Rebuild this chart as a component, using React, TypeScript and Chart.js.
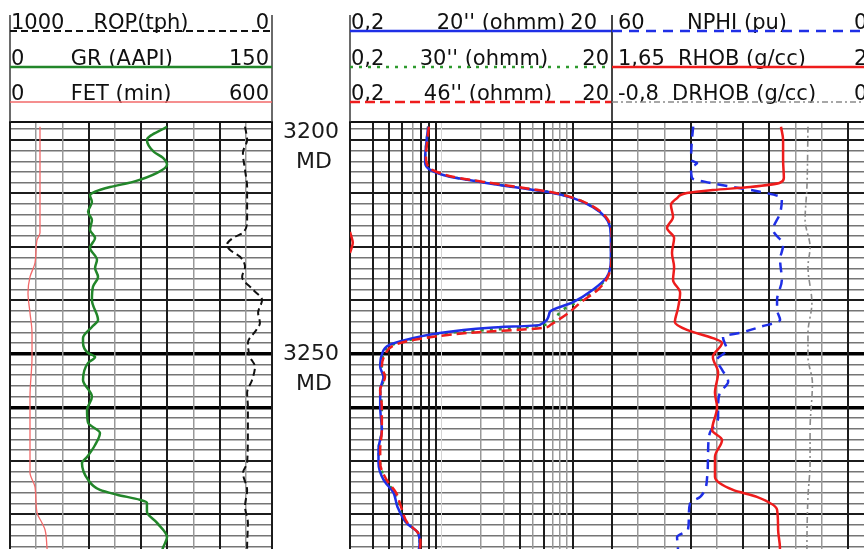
import React, { useEffect, useRef } from "react";
import { Chart, registerables } from "chart.js";

Chart.register(...registerables);

const FONT = '"DejaVu Sans", Verdana, sans-serif';

// ---------------- Depth axis (MD) ----------------
const DEPTH_TOP = 3195.8;
const DEPTH_BOTTOM = 3295.6;
const DEPTH_STEP = 2.5;
const DEPTH_MAJOR_EVERY = 12.5;
const DEPTH_THICK = [3250, 3262.5];
const DEPTH_LABELS = [3200, 3250];
const DEPTH_UNIT = "MD";

// ---------------- Track 1 : ROP / GR / FET ----------------
const ROP_RANGE = [0, 1000]; // drawn reversed: 1000 left, 0 right
const GR_RANGE = [0, 150];
const FET_RANGE = [0, 600];

const GR_DEPTH = [3196.9, 3200, 3202.8, 3204.2, 3205.8, 3207.7, 3209.8, 3211, 3212.1, 3212.9, 3214.5, 3216.8, 3218.7, 3221, 3222.9, 3225.2, 3228, 3229.9, 3232, 3234.3, 3237.4, 3242.1, 3243.7, 3246.3, 3247.4, 3249.8, 3250.7, 3252.1, 3256.1, 3260, 3263.1, 3266.1, 3268.5, 3271.3, 3274.1, 3275.5, 3279.4, 3281.8, 3282.9, 3284.1, 3284.8, 3286.9, 3289.5, 3292.8, 3295.3, 3297];
const GR = [89.9, 78.4, 82.4, 87.6, 89.9, 84.2, 70.4, 57.3, 48.7, 45.8, 46.9, 44.7, 46.9, 45.8, 48.7, 45.8, 49.8, 48.7, 50.4, 47.5, 46.9, 50.4, 46.9, 41.8, 41.8, 44.7, 48.7, 44.7, 41.8, 46.9, 44.1, 44.7, 51.5, 48.7, 44.1, 41.2, 44.7, 51.5, 61.3, 74.4, 78.4, 78.4, 84.2, 89.9, 87.6, 86.5];

const FET_DEPTH = [3196.9, 3221.7, 3223.4, 3228.7, 3232, 3235.7, 3240.4, 3245.1, 3250.7, 3260, 3277.8, 3281.1, 3287.1, 3289.5, 3291.1, 3295.3, 3297];
const FET = [68.7, 68.7, 61.8, 57.3, 45.8, 41.2, 45.8, 50.4, 50.4, 45.8, 45.8, 57.3, 61.8, 73.3, 80.2, 84.7, 86];

const ROP_DEPTH = [3196.9, 3200, 3203, 3207, 3211, 3218.7, 3221.7, 3222.9, 3224.5, 3225.7, 3227.3, 3229.7, 3232, 3235, 3237.4, 3240.4, 3242.8, 3244.4, 3247.4, 3250.7, 3253, 3256.1, 3259.1, 3262.4, 3267.8, 3275.5, 3277.8, 3281.8, 3285.7, 3289.5, 3295.1, 3297];
const ROP = [103, 95, 111, 103, 95, 95, 111, 149, 172, 160, 122, 103, 114, 72, 38, 53, 46, 60, 92, 84, 65, 76, 95, 92, 92, 95, 111, 95, 103, 92, 95, 95];

// ---------------- Track 2 : resistivity (log) ----------------
const RES_RANGE = [0.2, 20];
const LOG_GRID = [0.2, 0.3, 0.4, 0.5, 0.6, 0.7, 0.8, 0.9, 1, 2, 3, 4, 5, 6, 7, 8, 9, 10, 20];

const RES_DEPTH = [3196.9, 3200, 3204, 3205.4, 3207, 3208.6, 3209.8, 3211, 3212.1, 3213.6, 3215.7, 3218, 3220.3, 3223.4, 3228, 3232, 3235, 3237.9, 3240.2, 3243.2, 3243.9, 3245.1, 3246.7, 3247.9, 3250.2, 3253, 3255.4, 3258.4, 3262.4, 3267.8, 3272.4, 3275.5, 3279.4, 3282.5, 3285.7, 3289.5, 3291.8, 3294.2, 3297];
const RES20 = [0.79, 0.77, 0.75, 0.75, 0.82, 1.16, 1.97, 3.51, 6.38, 10.1, 14.3, 17.7, 19.3, 19.6, 19.6, 18.3, 14.3, 10.1, 6.7, 5.64, 2.34, 0.97, 0.54, 0.4, 0.35, 0.34, 0.36, 0.34, 0.34, 0.35, 0.33, 0.33, 0.36, 0.43, 0.46, 0.54, 0.66, 0.68, 0.66];
const RES30 = [0.79, 0.77, 0.75, 0.76, 0.83, 1.18, 2.0, 3.6, 6.5, 10.2, 14.4, 17.8, 19.4, 19.7, 19.6, 18.4, 15.0, 10.8, 8.0, 6.2, 4.0, 1.1, 0.58, 0.42, 0.36, 0.35, 0.37, 0.34, 0.35, 0.35, 0.33, 0.34, 0.37, 0.44, 0.47, 0.54, 0.66, 0.68, 0.66];
const RES46 = [0.8, 0.78, 0.76, 0.77, 0.85, 1.22, 2.1, 3.8, 6.6, 10.3, 14.6, 18.0, 19.6, 19.9, 19.8, 18.6, 15.6, 11.6, 9.5, 6.8, 6.0, 1.6, 0.62, 0.44, 0.37, 0.35, 0.37, 0.34, 0.35, 0.35, 0.34, 0.34, 0.38, 0.45, 0.49, 0.55, 0.66, 0.69, 0.67];
// backup (wrapped) trace of the 46" curve where it passes 20 ohmm
const RES46_WRAP_DEPTH = [3221.5, 3222.8, 3224, 3225.2, 3226.4];
const RES46_WRAP = [0.2, 0.206, 0.21, 0.206, 0.2];

// ---------------- Track 3 : NPHI / RHOB / DRHOB ----------------
const NPHI_RANGE = [0, 60]; // reversed: 60 left, 0 right
const RHOB_RANGE = [1.65, 2.65];
const DRHOB_RANGE = [-0.8, 0.2];

const NPHI_DEPTH = [3196.9, 3200, 3204.7, 3205.4, 3206.5, 3208.9, 3210, 3211, 3212.1, 3213.6, 3217.1, 3221, 3224.5, 3228, 3232.7, 3237.4, 3239.7, 3242.1, 3243.7, 3245.1, 3246, 3249.1, 3251.4, 3253.7, 3256.5, 3259.1, 3262.4, 3265, 3268.5, 3273.1, 3278.7, 3283.4, 3284.8, 3288.1, 3291.1, 3292.8, 3295.3, 3297];
const NPHI = [41.4, 41.7, 41.9, 40.5, 41.9, 41.7, 37.6, 32.3, 26.1, 21.1, 21.5, 23.1, 20.8, 21.5, 21.1, 22.2, 22.2, 21.5, 26.1, 30.7, 34.6, 33.7, 36.0, 34.8, 33.4, 35.3, 35.7, 35.7, 37.6, 38.0, 38.2, 39.8, 42.1, 42.4, 42.6, 45.1, 44.9, 44.9];

const RHOB_DEPTH = [3196.9, 3200, 3204.7, 3208.9, 3210, 3211, 3211.7, 3212.4, 3213.6, 3215.2, 3218, 3220.6, 3222.9, 3226.4, 3229.7, 3232.7, 3235.7, 3239.3, 3242.6, 3244.4, 3246.3, 3247.4, 3250.7, 3254.4, 3259.1, 3262.4, 3267.8, 3270.1, 3274.1, 3278.7, 3281.8, 3283.4, 3286.4, 3291.1, 3295.3, 3297];
const RHOB = [2.295, 2.303, 2.303, 2.306, 2.291, 2.177, 2.035, 1.936, 1.898, 1.875, 1.883, 1.86, 1.887, 1.879, 1.887, 1.883, 1.91, 1.902, 1.89, 1.936, 2.035, 2.07, 2.035, 2.055, 2.043, 2.051, 2.032, 2.07, 2.043, 2.043, 2.112, 2.203, 2.28, 2.284, 2.291, 2.29];

const DRHOB_DEPTH = [3196.9, 3211, 3218.7, 3225, 3229.7, 3238.1, 3245.1, 3250.7, 3256.8, 3267.8, 3275.5, 3283.4, 3295.1, 3297];
const DRHOB = [-0.052, -0.056, -0.063, -0.044, -0.052, -0.037, -0.052, -0.052, -0.035, -0.044, -0.044, -0.052, -0.056, -0.056];

// ---------------- layout / style ----------------
const W = 864;
const H = 549;
const GRID_TOP = 122;
const HEADER_LINE_Y = [31, 67, 102];
const HEADER_TOP = 15;

const TRACK1_DARK = [0, 3, 5, 6, 8, 10];
const TRACK3_DARK = [0, 3, 5, 6, 9, 10];
const LOG_DARK = [0.2, 0.3, 0.4, 0.5, 0.7, 0.8, 0.9, 4, 6, 10, 20];
const LOG_FAINT = [1];

const near = (a: number, b: number) => Math.abs(a - b) < 1e-6;
const isMultiple = (v: number, step: number) => {
  const r = v / step;
  return Math.abs(r - Math.round(r)) < 1e-6;
};
const fmt = (v: number) => String(v).replace(".", ",");

function depthStyle(v: number) {
  if (DEPTH_THICK.some((d) => near(d, v))) return { color: "#000", width: 3.5 };
  if (isMultiple(v, DEPTH_MAJOR_EVERY)) return { color: "#1c1c1c", width: 2 };
  return { color: "#757575", width: 1.6 };
}

function makeYScale() {
  return {
    type: "linear",
    position: "left",
    reverse: true,
    min: DEPTH_TOP,
    max: DEPTH_BOTTOM,
    border: { display: false },
    ticks: { display: false, stepSize: DEPTH_STEP, includeBounds: false, maxTicksLimit: 500 },
    grid: {
      drawTicks: false,
      color: (c: any) => (c.tick ? depthStyle(c.tick.value).color : "#757575"),
      lineWidth: (c: any) => (c.tick ? depthStyle(c.tick.value).width : 1.6),
    },
  };
}

function makeLinearGrid(dark: number[]) {
  const isDark = (c: any) => c.tick && dark.includes(Math.round(c.tick.value));
  return {
    type: "linear",
    position: "top",
    min: 0,
    max: 10,
    border: { display: true, color: "#111", width: 2 },
    ticks: { display: false, stepSize: 1, includeBounds: false },
    grid: {
      drawTicks: false,
      color: (c: any) => (isDark(c) ? "#1c1c1c" : "#999999"),
      lineWidth: (c: any) => (isDark(c) ? 2 : 1.5),
    },
  };
}

function makeLogGrid() {
  const styleOf = (c: any) => {
    const v = c.tick ? c.tick.value : 0;
    if (LOG_DARK.some((d) => near(d, v))) return { color: "#1c1c1c", width: 2 };
    if (LOG_FAINT.some((d) => near(d, v))) return { color: "#d4d4d4", width: 1 };
    return { color: "#999999", width: 1.5 };
  };
  return {
    type: "logarithmic",
    position: "top",
    min: RES_RANGE[0],
    max: RES_RANGE[1],
    border: { display: true, color: "#111", width: 2 },
    ticks: { display: false },
    afterBuildTicks: (scale: any) => {
      scale.ticks = LOG_GRID.map((v) => ({ value: v }));
    },
    grid: {
      drawTicks: false,
      color: (c: any) => styleOf(c).color,
      lineWidth: (c: any) => styleOf(c).width,
    },
  };
}

const hiddenX = (range: number[], reverse = false) => ({
  type: "linear",
  display: false,
  min: range[0],
  max: range[1],
  reverse,
});

type Curve = {
  label: string;
  depth: number[];
  values: number[];
  axis: string;
  color: string;
  width: number;
  dash?: number[];
  row?: number;
  titleFrac?: number;
  rightInset?: number;
  order?: number;
};

function toDataset(c: Curve) {
  return {
    label: c.label,
    data: c.depth.map((d, i) => ({ x: c.values[i], y: d })),
    xAxisID: c.axis,
    yAxisID: "y",
    borderColor: c.color,
    borderWidth: c.width,
    borderDash: c.dash || [],
    pointRadius: 0,
    pointHoverRadius: 0,
    fill: false,
    cubicInterpolationMode: "monotone",
    order: c.order ?? 0,
    headerRow: c.row,
    titleFrac: c.titleFrac,
    rightInset: c.rightInset || 0,
  };
}

const headerPlugin = {
  id: "logHeader",
  afterDraw(chart: any, _args: any, opts: any) {
    const { ctx, chartArea } = chart;
    const L = chartArea.left;
    const R = chartArea.right;
    ctx.save();
    ctx.strokeStyle = "#3a3a3a";
    ctx.lineWidth = 1.5;
    ctx.beginPath();
    ctx.moveTo(L, HEADER_TOP);
    ctx.lineTo(L, GRID_TOP);
    ctx.moveTo(R, HEADER_TOP);
    ctx.lineTo(R, GRID_TOP);
    ctx.stroke();

    ctx.font = `21px ${FONT}`;
    ctx.fillStyle = "#101010";
    ctx.textBaseline = "alphabetic";
    chart.data.datasets.forEach((ds: any) => {
      if (ds.headerRow === undefined) return;
      const lineY = HEADER_LINE_Y[ds.headerRow];
      const baseY = lineY - 2;
      const so = chart.scales[ds.xAxisID].options;
      const lv = so.reverse ? so.max : so.min;
      const rv = so.reverse ? so.min : so.max;
      ctx.textAlign = "left";
      ctx.fillText(fmt(lv), L + (opts.leftInset || 0), baseY);
      ctx.textAlign = "center";
      ctx.fillText(ds.label, L + ds.titleFrac * (R - L), baseY);
      if (opts.rightStart) {
        ctx.textAlign = "left";
        ctx.fillText(fmt(rv), R - opts.rightStart, baseY);
      } else {
        ctx.textAlign = "right";
        ctx.fillText(fmt(rv), R - 3 - ds.rightInset, baseY);
      }
      ctx.strokeStyle = ds.borderColor;
      ctx.lineWidth = ds.borderWidth;
      ctx.setLineDash(ds.borderDash || []);
      ctx.beginPath();
      ctx.moveTo(L, lineY);
      ctx.lineTo(R, lineY);
      ctx.stroke();
      ctx.setLineDash([]);
    });
    ctx.restore();
  },
};

const depthPlugin = {
  id: "depthLabels",
  afterDraw(chart: any) {
    const { ctx, chartArea } = chart;
    const y = chart.scales.y;
    const cx = chartArea.right + 39;
    ctx.save();
    ctx.font = `22px ${FONT}`;
    ctx.fillStyle = "#1a1a1a";
    ctx.textAlign = "center";
    ctx.textBaseline = "middle";
    DEPTH_LABELS.forEach((d) => {
      let py = y.getPixelForValue(d);
      if (py - 20 < chartArea.top) py = chartArea.top + 10;
      ctx.fillText(String(d), cx, py);
      ctx.fillText(DEPTH_UNIT, cx + 3, py + 30);
    });
    ctx.restore();
  },
};

type TrackProps = {
  left: number;
  width: number;
  padLeft: number;
  padRight: number;
  scales: any;
  curves: Curve[];
  header: any;
  depthLabels?: boolean;
};

function Track({ left, width, padLeft, padRight, scales, curves, header, depthLabels }: TrackProps) {
  const ref = useRef<HTMLCanvasElement>(null);
  useEffect(() => {
    if (!ref.current) return;
    const chart = new Chart(ref.current, {
      type: "line",
      data: { datasets: curves.map(toDataset) as any },
      options: {
        responsive: false,
        animation: false,
        events: [],
        indexAxis: "y",
        layout: { padding: { top: GRID_TOP, left: padLeft, right: padRight, bottom: 0 } },
        scales: { y: makeYScale(), ...scales } as any,
        plugins: {
          legend: { display: false },
          tooltip: { enabled: false },
          logHeader: header,
        } as any,
      } as any,
      plugins: depthLabels ? [headerPlugin, depthPlugin] : [headerPlugin],
    });
    return () => chart.destroy();
  }, []);
  return (
    <canvas
      ref={ref}
      width={width}
      height={H}
      style={{ position: "absolute", left, top: 0, width, height: H }}
    />
  );
}

const TRACK1_CURVES: Curve[] = [
  { label: "ROP(tph)", depth: ROP_DEPTH, values: ROP, axis: "xROP", color: "#111", width: 2, dash: [7, 4], row: 0, titleFrac: 0.5 },
  { label: "GR (AAPI)", depth: GR_DEPTH, values: GR, axis: "xGR", color: "#22862a", width: 2.5, row: 1, titleFrac: 0.427 },
  { label: "FET (min)", depth: FET_DEPTH, values: FET, axis: "xFET", color: "#f26a6a", width: 1.3, row: 2, titleFrac: 0.424 },
];

const TRACK2_CURVES: Curve[] = [
  { label: "20'' (ohmm)", depth: RES_DEPTH, values: RES20, axis: "xr", color: "#1f2fe6", width: 2.5, row: 0, titleFrac: 0.576, rightInset: 12, order: 1 },
  { label: "30'' (ohmm)", depth: RES_DEPTH, values: RES30, axis: "xr", color: "#2e9a2e", width: 2.5, dash: [3, 6], row: 1, titleFrac: 0.511, order: 2 },
  { label: "46'' (ohmm)", depth: RES_DEPTH, values: RES46, axis: "xr", color: "#ee1c1c", width: 2.5, dash: [10, 5], row: 2, titleFrac: 0.527, order: 0 },
  { label: "46'' backup", depth: RES46_WRAP_DEPTH, values: RES46_WRAP, axis: "xr", color: "#ee1c1c", width: 2.5, order: 0 },
];

const TRACK3_CURVES: Curve[] = [
  { label: "NPHI (pu)", depth: NPHI_DEPTH, values: NPHI, axis: "xNPHI", color: "#1f2fe6", width: 2.5, dash: [10, 7], row: 0, titleFrac: 0.477, order: 1 },
  { label: "RHOB (g/cc)", depth: RHOB_DEPTH, values: RHOB, axis: "xRHOB", color: "#ee1c1c", width: 2.5, row: 1, titleFrac: 0.496, order: 0 },
  { label: "DRHOB (g/cc)", depth: DRHOB_DEPTH, values: DRHOB, axis: "xDRHOB", color: "#8a8a8a", width: 1.6, dash: [6, 3, 2, 3], row: 2, titleFrac: 0.504, order: 2 },
];

export default function App() {
  return (
    <div
      style={{
        position: "fixed",
        left: 0,
        top: 0,
        width: W,
        height: H,
        overflow: "hidden",
        background: "#fff",
      }}
    >
      <Track
        left={0}
        width={350}
        padLeft={10}
        padRight={78}
        curves={TRACK1_CURVES}
        header={{ leftInset: 1 }}
        depthLabels
        scales={{
          xg: makeLinearGrid(TRACK1_DARK),
          xROP: hiddenX(ROP_RANGE, true),
          xGR: hiddenX(GR_RANGE),
          xFET: hiddenX(FET_RANGE),
        }}
      />
      <Track
        left={342}
        width={278}
        padLeft={8}
        padRight={8}
        curves={TRACK2_CURVES}
        header={{ leftInset: 1 }}
        scales={{ xr: makeLogGrid() }}
      />
      <Track
        left={604}
        width={280}
        padLeft={8}
        padRight={10}
        curves={TRACK3_CURVES}
        header={{ leftInset: 6, rightStart: 20 }}
        scales={{
          xg: makeLinearGrid(TRACK3_DARK),
          xNPHI: hiddenX(NPHI_RANGE, true),
          xRHOB: hiddenX(RHOB_RANGE),
          xDRHOB: hiddenX(DRHOB_RANGE),
        }}
      />
    </div>
  );
}
